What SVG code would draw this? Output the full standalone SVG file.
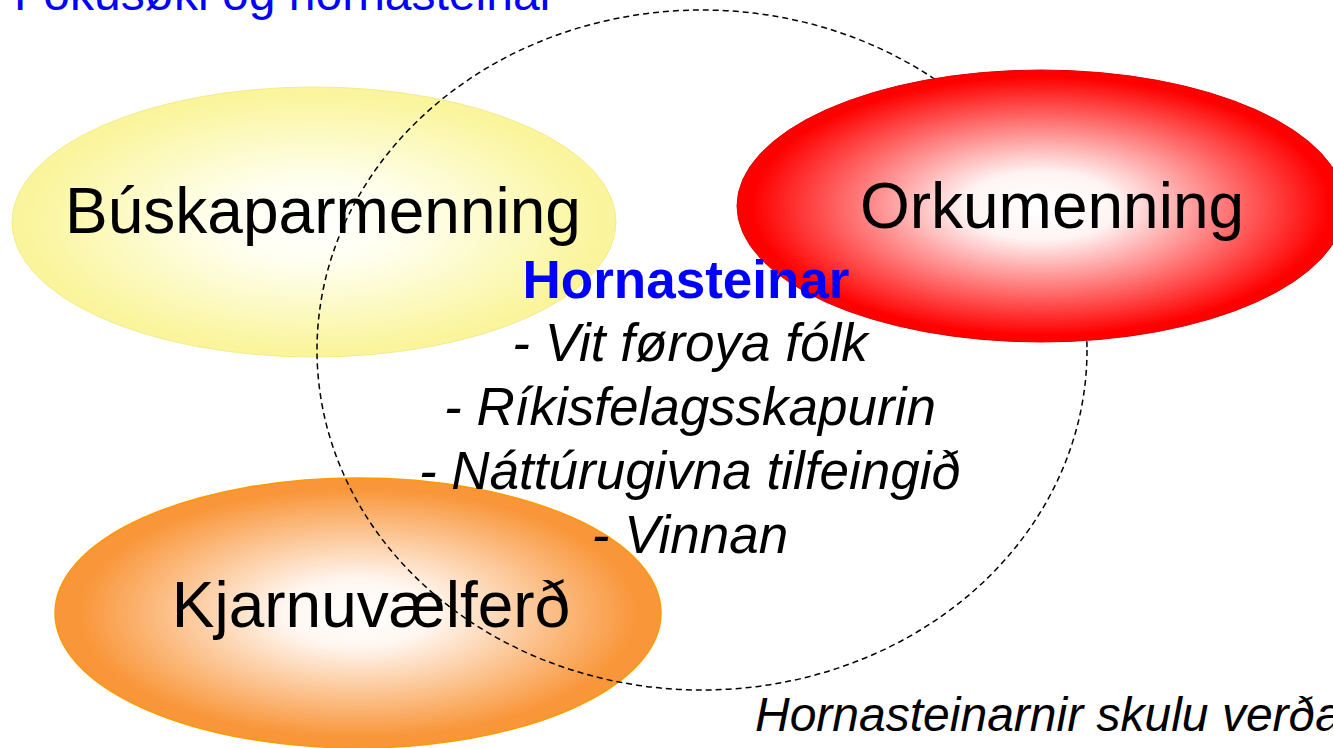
<svg xmlns="http://www.w3.org/2000/svg" width="1333" height="748" viewBox="0 0 1333 748">
<style>
.lbl{font-family:"Liberation Sans",Arial,sans-serif;font-size:64px;fill:#000;text-anchor:middle}
.it{font-family:"Liberation Sans",Arial,sans-serif;font-size:53px;font-style:italic;fill:#000;text-anchor:middle}
</style>
<defs>
<radialGradient id="gy"><stop offset="0" stop-color="#FFFFFF"/><stop offset="0.3" stop-color="#FFFFF0"/><stop offset="0.95" stop-color="#FAF59C"/></radialGradient>
<radialGradient id="gr"><stop offset="0" stop-color="#FFFFFF"/><stop offset="0.25" stop-color="#FFF4F4"/><stop offset="0.95" stop-color="#FF0000"/></radialGradient>
<radialGradient id="go"><stop offset="0" stop-color="#FFFFFF"/><stop offset="0.25" stop-color="#FFF6F0"/><stop offset="0.92" stop-color="#F9963A"/></radialGradient>
</defs>
<rect width="1333" height="748" fill="#FFFFFF"/>
<text x="14" y="10" font-family="Liberation Sans, Arial, sans-serif" font-size="48" fill="#0000FF">Fokusøki og hornasteinar</text>
<g id="buskapar">
<ellipse cx="314" cy="222" rx="302" ry="135" fill="url(#gy)" stroke="#F2EC8A" stroke-width="1"/>
</g>
<g id="kjarnu">
<ellipse cx="358" cy="613" rx="303" ry="135" fill="url(#go)" stroke="#FF9900" stroke-width="1.5"/>
</g>
<g id="connectors">
<ellipse id="hornasteinar-ring" cx="702" cy="350" rx="385" ry="340" fill="none" stroke="#000" stroke-width="1.5" stroke-dasharray="6 4"/>
</g>
<g id="orku">
<ellipse cx="1041" cy="206" rx="304" ry="136" fill="url(#gr)" stroke="#E00000" stroke-width="1"/>
</g>
<text class="lbl" x="323" y="233">Búskaparmenning</text>
<text class="lbl" x="1052" y="228">Orkumenning</text>
<text class="lbl" x="371" y="627">Kjarnuvælferð</text>
<g id="hornasteinar">
<text x="686" y="298" font-family="Liberation Sans, Arial, sans-serif" font-size="53" font-weight="bold" fill="#0000FF" text-anchor="middle">Hornasteinar</text>
<text class="it" x="690" y="361">- Vit føroya fólk</text>
<text class="it" x="690" y="425">- Ríkisfelagsskapurin</text>
<text class="it" x="690" y="489">- Náttúrugivna tilfeingið</text>
<text class="it" x="690" y="553">- Vinnan</text>
</g>
<text x="755" y="731" font-family="Liberation Sans, Arial, sans-serif" font-size="48" font-style="italic" fill="#000">Hornasteinarnir skulu verða</text>
</svg>
